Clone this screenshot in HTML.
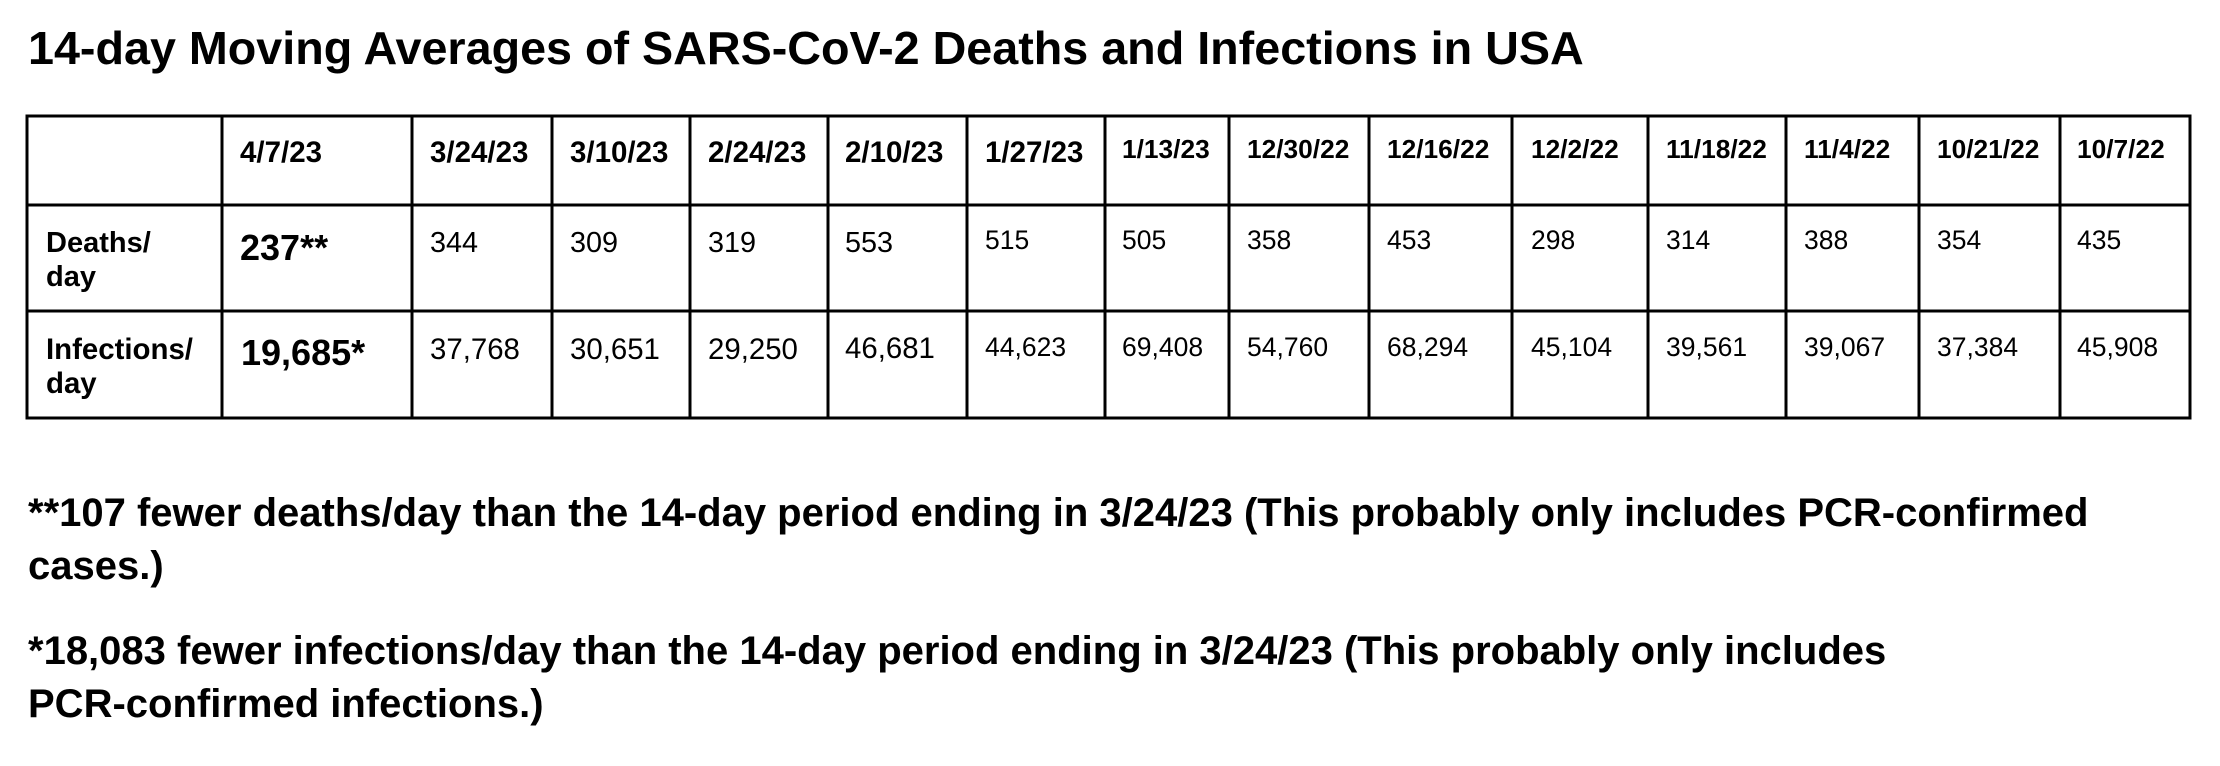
<!DOCTYPE html>
<html>
<head>
<meta charset="utf-8">
<style>
  html, body { margin: 0; padding: 0; background: #ffffff; }
  body { width: 2220px; height: 766px; overflow: hidden; }
  svg { display: block; }
  text { font-family: "Liberation Sans", Arial, sans-serif; fill: #000; }
  .b { font-weight: bold; }
</style>
</head>
<body>
<svg width="2220" height="766" viewBox="0 0 2220 766" xmlns="http://www.w3.org/2000/svg">
  <rect x="0" y="0" width="2220" height="766" fill="#ffffff"/>

  <!-- Title -->
  <text class="b" x="28" y="64" font-size="46.7">14-day Moving Averages of SARS-CoV-2 Deaths and Infections in USA</text>

  <!-- Table grid -->
  <g stroke="#000" stroke-width="3" fill="none">
    <line x1="25.5" y1="116" x2="2191.5" y2="116"/>
    <line x1="25.5" y1="205" x2="2191.5" y2="205"/>
    <line x1="25.5" y1="311" x2="2191.5" y2="311"/>
    <line x1="25.5" y1="418" x2="2191.5" y2="418"/>

    <line x1="27" y1="114.5" x2="27" y2="419.5"/>
    <line x1="222" y1="114.5" x2="222" y2="419.5"/>
    <line x1="412" y1="114.5" x2="412" y2="419.5"/>
    <line x1="552" y1="114.5" x2="552" y2="419.5"/>
    <line x1="690" y1="114.5" x2="690" y2="419.5"/>
    <line x1="828" y1="114.5" x2="828" y2="419.5"/>
    <line x1="967" y1="114.5" x2="967" y2="419.5"/>
    <line x1="1105" y1="114.5" x2="1105" y2="419.5"/>
    <line x1="1229" y1="114.5" x2="1229" y2="419.5"/>
    <line x1="1369" y1="114.5" x2="1369" y2="419.5"/>
    <line x1="1512" y1="114.5" x2="1512" y2="419.5"/>
    <line x1="1648" y1="114.5" x2="1648" y2="419.5"/>
    <line x1="1786" y1="114.5" x2="1786" y2="419.5"/>
    <line x1="1919" y1="114.5" x2="1919" y2="419.5"/>
    <line x1="2060" y1="114.5" x2="2060" y2="419.5"/>
    <line x1="2190" y1="114.5" x2="2190" y2="419.5"/>
  </g>

  <!-- Header row -->
  <g class="b" font-weight="bold">
    <text x="240" y="162" font-size="29.5">4/7/23</text>
    <text x="430" y="162" font-size="29.5">3/24/23</text>
    <text x="570" y="162" font-size="29.5">3/10/23</text>
    <text x="708" y="162" font-size="29.5">2/24/23</text>
    <text x="845" y="162" font-size="29.5">2/10/23</text>
    <text x="985" y="162" font-size="29.5">1/27/23</text>
    <text x="1122" y="158" font-size="26.3">1/13/23</text>
    <text x="1247" y="158" font-size="26.3">12/30/22</text>
    <text x="1387" y="158" font-size="26.3">12/16/22</text>
    <text x="1531" y="158" font-size="26.3">12/2/22</text>
    <text x="1666" y="158" font-size="26.3">11/18/22</text>
    <text x="1804" y="158" font-size="26.3">11/4/22</text>
    <text x="1937" y="158" font-size="26.3">10/21/22</text>
    <text x="2077" y="158" font-size="26.3">10/7/22</text>
  </g>

  <!-- Row labels -->
  <g font-weight="bold">
    <text x="46" y="252" font-size="29">Deaths/</text>
    <text x="46" y="286" font-size="29">day</text>
    <text x="46" y="359" font-size="29.4">Infections/</text>
    <text x="46" y="393" font-size="29.4">day</text>
  </g>

  <!-- Deaths row -->
  <text x="240" y="260" font-size="36" font-weight="bold">237**</text>
  <text x="430" y="252" font-size="28.8">344</text>
  <text x="570" y="252" font-size="28.8">309</text>
  <text x="708" y="252" font-size="28.8">319</text>
  <text x="845" y="252" font-size="28.8">553</text>
  <text x="985" y="249" font-size="26.5">515</text>
  <text x="1122" y="249" font-size="26.5">505</text>
  <text x="1247" y="249" font-size="26.5">358</text>
  <text x="1387" y="249" font-size="26.5">453</text>
  <text x="1531" y="249" font-size="26.5">298</text>
  <text x="1666" y="249" font-size="26.5">314</text>
  <text x="1804" y="249" font-size="26.5">388</text>
  <text x="1937" y="249" font-size="26.5">354</text>
  <text x="2077" y="249" font-size="26.5">435</text>

  <!-- Infections row -->
  <text x="241" y="365" font-size="36" font-weight="bold">19,685*</text>
  <text x="430" y="359" font-size="29.4">37,768</text>
  <text x="570" y="359" font-size="29.4">30,651</text>
  <text x="708" y="359" font-size="29.4">29,250</text>
  <text x="845" y="358" font-size="29.4">46,681</text>
  <text x="985" y="356" font-size="26.5">44,623</text>
  <text x="1122" y="356" font-size="26.5">69,408</text>
  <text x="1247" y="356" font-size="26.5">54,760</text>
  <text x="1387" y="356" font-size="26.5">68,294</text>
  <text x="1531" y="356" font-size="26.5">45,104</text>
  <text x="1666" y="356" font-size="26.5">39,561</text>
  <text x="1804" y="356" font-size="26.5">39,067</text>
  <text x="1937" y="356" font-size="26.5">37,384</text>
  <text x="2077" y="356" font-size="26.5">45,908</text>

  <!-- Footnotes -->
  <g font-weight="bold" font-size="40">
    <text x="28" y="526">**107 fewer deaths/day than the 14-day period ending in 3/24/23 (This probably only includes PCR-confirmed</text>
    <text x="28" y="579">cases.)</text>
    <text x="28" y="664">*18,083 fewer infections/day than the 14-day period ending in 3/24/23 (This probably only includes</text>
    <text x="28" y="717">PCR-confirmed infections.)</text>
  </g>
</svg>
</body>
</html>
